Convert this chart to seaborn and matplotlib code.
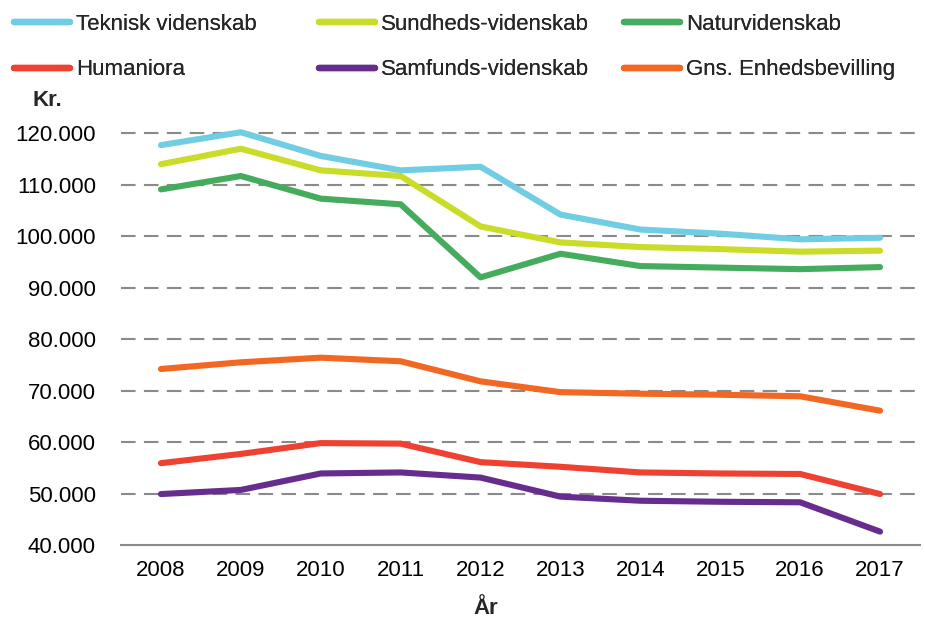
import matplotlib
matplotlib.use('Agg')
import matplotlib.pyplot as plt
import matplotlib.ticker as mticker
import seaborn as sns
import pandas as pd

# Data (kr. per year)
years = [2008, 2009, 2010, 2011, 2012, 2013, 2014, 2015, 2016, 2017]
teknisk = [117700, 120200, 115600, 112800, 113500, 104200, 101300, 100500, 99400, 99700]
sundhed = [114000, 117000, 112800, 111700, 101900, 98800, 97900, 97500, 97000, 97200]
natur = [109100, 111700, 107300, 106200, 92000, 96600, 94200, 93900, 93600, 94000]
humaniora = [55900, 57700, 59800, 59700, 56100, 55200, 54100, 53900, 53800, 49900]
samfund = [49900, 50700, 53900, 54100, 53100, 49400, 48600, 48400, 48300, 42600]
gns = [74200, 75500, 76400, 75700, 71800, 69700, 69400, 69200, 68900, 66100]

series_names = ['Teknisk videnskab', 'Sundheds-videnskab', 'Naturvidenskab',
                'Humaniora', 'Samfunds-videnskab', 'Gns. Enhedsbevilling']
series_values = [teknisk, sundhed, natur, humaniora, samfund, gns]
colors = ['#70CDE3', '#C9DC28', '#45AC5E', '#EE4132', '#662D8F', '#F26722']

rows = []
for name, vals in zip(series_names, series_values):
    for y, v in zip(years, vals):
        rows.append({'År': y, 'Kr.': v, 'serie': name})
df = pd.DataFrame(rows)

sns.set_style('white')
plt.rcParams['font.family'] = ['Liberation Sans', 'DejaVu Sans']
FS = 16

fig = plt.figure(figsize=(9.25, 6.19), dpi=100)
ax = fig.add_axes([121 / 925, 1 - 545 / 619, 799 / 925, (545 - 123) / 619])

sns.lineplot(data=df, x='År', y='Kr.', hue='serie', hue_order=series_names,
             palette=dict(zip(series_names, colors)), linewidth=4.4,
             solid_capstyle='round', ax=ax, legend=True, zorder=3)

ax.set_xlim(2007.5, 2017.5)
ax.set_ylim(40000, 122000)
ax.set_yticks(range(40000, 120001, 10000))
ax.yaxis.set_major_formatter(mticker.FuncFormatter(lambda v, p: f'{int(v):,}'.replace(',', '.')))
ax.set_xticks(years)
ax.set_xticks([y - 0.5 for y in years] + [2017.5], minor=True)

for v in range(50000, 120001, 10000):
    ax.axhline(v, color='#8A8A8A', lw=1.5, ls=(0, (7, 4)), zorder=1)

for s in ['top', 'right', 'left']:
    ax.spines[s].set_visible(False)
ax.spines['bottom'].set_color('#8A8A8A')
ax.spines['bottom'].set_linewidth(1.5)

ax.tick_params(axis='y', which='both', length=0, labelsize=FS, pad=18, labelcolor='black')
ax.tick_params(axis='x', which='major', length=0, labelsize=FS, pad=11, labelcolor='black')
ax.tick_params(axis='x', which='minor', length=5, width=1.5, color='#8A8A8A', direction='out')

ax.set_xlabel('')
ax.set_ylabel('')
fig.text(32 / 925, 1 - 100 / 619, 'Kr.', fontsize=FS, fontweight='bold', va='center', ha='left')
fig.text(486 / 925, 1 - 608 / 619, 'År', fontsize=FS, fontweight='bold', va='center', ha='center')

handles, labels = ax.get_legend_handles_labels()
ax.get_legend().remove()
col_x = [14, 319, 624]
for c in range(3):
    idx = [c, c + 3]
    leg = fig.legend([handles[i] for i in idx], [labels[i] for i in idx],
                     loc='upper left', bbox_to_anchor=(col_x[c] / 925, 1 - 14 / 619),
                     frameon=False, fontsize=FS, handlelength=2.5, handletextpad=0.3,
                     labelspacing=1.1, borderaxespad=0, borderpad=0)
    for line in leg.get_lines():
        line.set_linewidth(4.6)
        line.set_solid_capstyle('round')
    fig.add_artist(leg)

fig.savefig('out.png', dpi=100)
